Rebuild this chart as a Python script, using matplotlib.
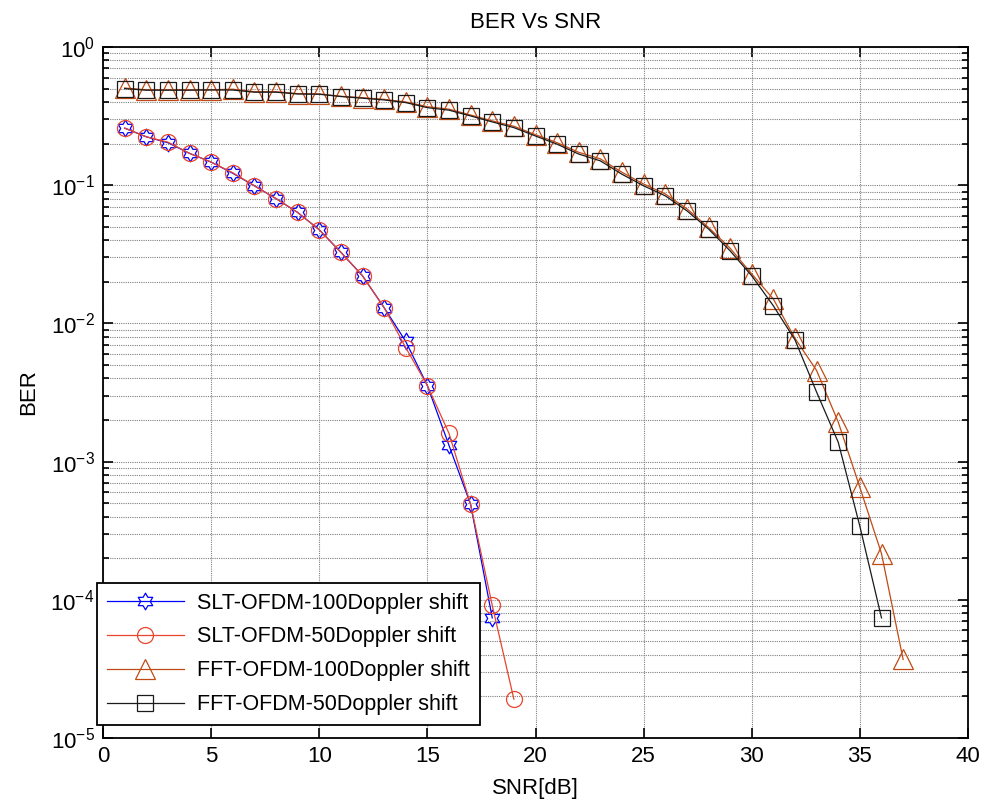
import matplotlib
matplotlib.use("Agg")
import matplotlib.pyplot as plt
import numpy as np
from matplotlib.path import Path
from matplotlib.ticker import LogLocator, NullFormatter

# Data
snr_slt100 = list(range(1, 19))
ber_slt100 = [0.259, 0.224, 0.203, 0.170, 0.147, 0.122, 0.099, 0.080, 0.0635,
              0.0476, 0.0327, 0.0221, 0.0130, 0.0074, 0.00355, 0.00131,
              0.00049, 7.4e-5]

snr_slt50 = list(range(1, 20))
ber_slt50 = [0.259, 0.224, 0.205, 0.170, 0.147, 0.123, 0.099, 0.080, 0.0635,
             0.0476, 0.0327, 0.0221, 0.0130, 0.00668, 0.00355, 0.0016,
             0.00049, 9.1e-5, 1.91e-5]

snr_fft100 = list(range(1, 38))
ber_fft100 = [0.505, 0.49, 0.49, 0.49, 0.49, 0.495, 0.475, 0.475, 0.46, 0.458,
              0.44, 0.43, 0.418, 0.40, 0.37, 0.355, 0.322, 0.292, 0.267,
              0.232, 0.203, 0.173, 0.155, 0.124, 0.102, 0.0865, 0.0675,
              0.0495, 0.0350, 0.0228, 0.0150, 0.0078, 0.00456, 0.00193,
              6.5e-4, 2.16e-4, 3.7e-5]

snr_fft50 = list(range(1, 37))
ber_fft50 = [0.500, 0.487, 0.487, 0.487, 0.489, 0.488, 0.471, 0.471, 0.457,
             0.455, 0.438, 0.426, 0.414, 0.396, 0.364, 0.349, 0.317, 0.287,
             0.261, 0.227, 0.198, 0.168, 0.150, 0.120, 0.099, 0.0838, 0.0653,
             0.0482, 0.0335, 0.0221, 0.0134, 0.0076, 0.00318, 0.00138,
             3.4e-4, 7.4e-5]

labels = ["SLT-OFDM-100Doppler shift", "SLT-OFDM-50Doppler shift",
          "FFT-OFDM-100Doppler shift", "FFT-OFDM-50Doppler shift"]

plt.rcParams["font.family"] = ["Liberation Sans", "DejaVu Sans"]
plt.rcParams["mathtext.fontset"] = "custom"
plt.rcParams["mathtext.rm"] = "Liberation Sans"

# MATLAB style hexagram (star of David outline)
ang = np.deg2rad(90 + np.arange(12) * 30)
rad = np.where(np.arange(12) % 2 == 0, 1.0, 1 / np.sqrt(3))
verts = np.column_stack([rad * np.cos(ang), rad * np.sin(ang)])
verts = np.vstack([verts, verts[:1]])
hexagram = Path(verts, closed=True)

fig = plt.figure(figsize=(9.89, 8.05), dpi=100)
ax = fig.add_axes([103 / 989, 1 - 738 / 805, (968 - 103) / 989, (738 - 47) / 805])

lw = 0.9
ax.plot(snr_slt100, ber_slt100, color="#0000FF", lw=lw, marker=hexagram,
        ms=12, mfc="none", mew=0.9, label=labels[0])
ax.plot(snr_slt50, ber_slt50, color="#E8452C", lw=lw, marker="o",
        ms=11.5, mfc="none", mew=0.9, label=labels[1])
ax.plot(snr_fft100, ber_fft100, color="#C04A14", lw=lw, marker="^",
        ms=14, mfc="none", mew=0.9, label=labels[2])
ax.plot(snr_fft50, ber_fft50, color="#1A1A1A", lw=lw, marker="s",
        ms=11.5, mfc="none", mew=0.9, label=labels[3])

ax.set_yscale("log")
ax.set_xlim(0, 40)
ax.set_ylim(1e-5, 1)
ax.set_xticks(np.arange(0, 41, 5))
ax.yaxis.set_major_locator(LogLocator(base=10, numticks=10))
ax.yaxis.set_minor_locator(LogLocator(base=10, subs=np.arange(2, 10), numticks=20))
ax.yaxis.set_minor_formatter(NullFormatter())

ax.grid(True, which="major", axis="both", ls=(0, (1, 1)), color="0.5", lw=0.8)
ax.grid(True, which="minor", axis="y", ls=(0, (1, 1)), color="0.5", lw=0.8)

ax.tick_params(which="both", direction="in", top=True, right=True,
               labelsize=16, width=1.2)
ax.tick_params(which="major", length=7, pad=6)
ax.tick_params(which="minor", length=4)
for s in ax.spines.values():
    s.set_linewidth(1.3)

ax.set_title("BER Vs SNR", fontsize=16, pad=14)
ax.set_xlabel("SNR[dB]", fontsize=16, labelpad=8)
ax.set_ylabel("BER", fontsize=16, labelpad=8)

leg = ax.legend(loc="lower left", bbox_to_anchor=(97 / 989, 1 - 725 / 805),
                bbox_transform=fig.transFigure, fontsize=15.5, handlelength=3.6,
                markerscale=1.0, numpoints=1, fancybox=False, framealpha=1,
                edgecolor="black", borderpad=0.45, labelspacing=0.6,
                handletextpad=0.6, borderaxespad=0)
leg.get_frame().set_linewidth(1.3)

fig.savefig("out.png", dpi=100)
